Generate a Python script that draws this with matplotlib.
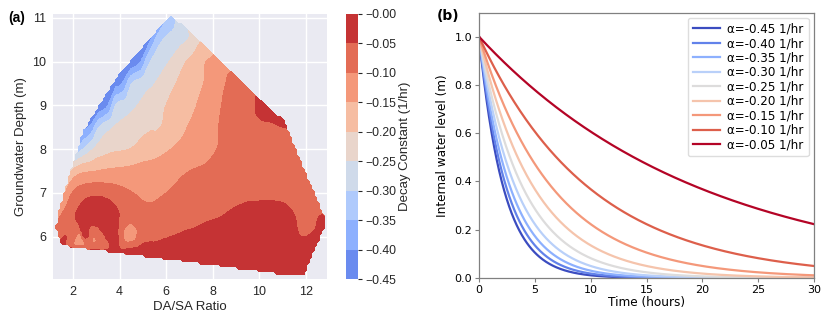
import numpy as np
import matplotlib
matplotlib.use("Agg")
import matplotlib.pyplot as plt
import matplotlib.tri as mtri
from matplotlib.colors import Normalize

# ---- panel (a): sampled runs, DA/SA ratio vs groundwater depth, fitted decay constant (1/hr)
# outline runs (these set the hull of the sampled domain)
edge_x = [6.24, 7.38, 8.0, 8.74, 9.4, 9.95, 10.5, 11.1, 11.53, 12.0, 12.82, 12.82, 12.31, 12.03, 11.9,
          11.0, 9.0, 7.0, 5.5, 3.9, 2.8, 1.58, 1.44, 1.23, 1.30, 1.61, 1.87, 2.16, 2.3,
          2.44, 3.1, 3.88, 4.46, 5.3, 6.09]
edge_y = [11.07, 10.5, 10.13, 9.76, 9.4, 9.14, 8.87, 8.63, 8.02, 7.37, 6.45, 6.22, 5.62, 5.23, 5.1,
          5.12, 5.27, 5.46, 5.54, 5.62, 5.7, 5.77, 5.84, 6.19, 6.5, 7.0, 7.52, 7.9, 8.13,
          8.44, 9.0, 9.66, 10.0, 10.5, 11.03]
edge_z = [-0.32, -0.21, -0.15, -0.10, -0.07, -0.045, -0.04, -0.045, -0.07, -0.07, -0.05, -0.035, -0.02, -0.01, -0.005,
          -0.005, -0.005, -0.01, -0.02, -0.03, -0.048, -0.04, -0.045, -0.09, -0.12, -0.16, -0.21, -0.30, -0.36,
          -0.40, -0.445, -0.445, -0.445, -0.41, -0.34]

# interior runs
in_x = [5.6, 6.0, 6.5, 7.0,
        4.9, 5.24, 5.7, 6.12, 6.5, 6.85, 7.3, 7.7,
        4.1, 4.52, 5.0, 5.51, 6.41, 7.0, 7.6, 8.55, 9.1,
        3.5, 3.81, 4.3, 4.76, 5.4, 5.98, 6.6, 7.3, 7.8, 8.37, 9.0, 9.6,
        2.75, 3.11, 3.73, 4.7, 5.75, 6.3, 6.9, 7.6, 8.25, 9.0, 9.7, 10.5, 11.0,
        2.5, 2.85, 3.5, 4.4, 5.3, 6.2, 7.2, 8.17, 9.0, 10.0, 10.8,
        2.2, 3.0, 4.0, 5.0, 6.0, 7.0, 8.0, 9.0, 10.0, 11.0, 11.8,
        1.95, 2.5, 3.0, 3.7, 4.59, 5.3, 6.0, 7.0, 8.0, 9.0, 10.0, 11.0, 12.0,
        1.7, 2.1, 2.6, 3.2, 3.98, 4.5, 5.5, 6.5, 7.5, 8.2, 9.0, 10.0, 11.0, 11.5, 12.0, 12.6,
        1.75, 2.5, 3.5, 3.94, 4.15, 4.45, 4.75, 5.0, 5.5, 6.03, 7.0, 8.0, 9.0, 10.0, 11.0, 11.79, 12.5,
        1.9, 2.4, 2.85, 3.3, 5.0, 7.0, 9.0, 11.0]
in_y = [10.5] * 4 + [10.0] * 8 + [9.5] * 9 + [9.0] * 12 + [8.5] * 13 + [8.0] * 11 + [7.5] * 11 \
       + [7.0] * 13 + [6.5] * 16 \
       + [6.0, 6.0, 6.0, 6.0, 6.08, 6.08, 6.08, 6.0, 6.0, 6.0, 6.0, 6.0, 6.0, 6.0, 6.0, 6.0, 6.0] \
       + [5.9, 5.88, 5.85, 5.8, 5.7, 5.7, 5.6, 5.5]
in_z = [-0.33, -0.29, -0.27, -0.245,
        -0.40, -0.31, -0.27, -0.25, -0.225, -0.20, -0.175, -0.15,
        -0.40, -0.30, -0.275, -0.25, -0.20, -0.175, -0.15, -0.10, -0.075,
        -0.40, -0.30, -0.275, -0.25, -0.225, -0.20, -0.175, -0.15, -0.125, -0.10, -0.08, -0.06,
        -0.39, -0.30, -0.25, -0.22, -0.20, -0.175, -0.15, -0.13, -0.10, -0.08, -0.06, -0.055, -0.05,
        -0.29, -0.25, -0.215, -0.20, -0.175, -0.15, -0.135, -0.10, -0.085, -0.075, -0.07,
        -0.17, -0.15, -0.14, -0.13, -0.12, -0.10, -0.085, -0.075, -0.065, -0.065, -0.07,
        -0.10, -0.07, -0.06, -0.075, -0.10, -0.115, -0.10, -0.085, -0.075, -0.065, -0.06, -0.06, -0.065,
        -0.08, -0.05, -0.02, -0.01, -0.05, -0.075, -0.08, -0.07, -0.065, -0.055, -0.04, -0.03, -0.035, -0.05, -0.065, -0.05,
        -0.05, -0.045, -0.045, -0.05, -0.10, -0.135, -0.10, -0.07, -0.06, -0.052, -0.04, -0.02, -0.015, -0.015, -0.02,
        -0.05, -0.04,
        -0.08, -0.12, -0.10, -0.07, -0.03, -0.02, -0.01, -0.01]

levels = np.round(np.arange(-0.45, 0.001, 0.05), 2)

# ---- panel (b): decay curves
alphas = [-0.45, -0.40, -0.35, -0.30, -0.25, -0.20, -0.15, -0.10, -0.05]
t_end = 30

fig = plt.figure(figsize=(8.3, 3.24), dpi=100)

ax1 = fig.add_axes([53 / 830, 1 - 279 / 324, 274 / 830, 265 / 324])
cax = fig.add_axes([346 / 830, 1 - 279 / 324, 12 / 830, 265 / 324])
ax2 = fig.add_axes([479 / 830, 1 - 278 / 324, 335 / 830, 265.5 / 324])

sx = np.array(edge_x + in_x)
sy = np.array(edge_y + in_y)
sz = np.array(edge_z + in_z)
tri = mtri.Triangulation(sx, sy)
interp = mtri.CubicTriInterpolator(tri, sz, kind="geom")
gx, gy = np.meshgrid(np.linspace(1.14, 12.9, 110), np.linspace(5.03, 11.09, 110))
gz = interp(gx, gy)
gz = np.ma.clip(gz, -0.4499, -0.0005)

# seaborn darkgrid look for the contour panel
ax1.set_facecolor("#EAEAF2")
ax1.grid(True, color="white", linewidth=1.0)
ax1.set_axisbelow(True)
for s in ax1.spines.values():
    s.set_visible(False)
cs = ax1.contourf(gx, gy, gz, levels=levels, cmap="coolwarm",
                  norm=Normalize(vmin=-0.5, vmax=0.0), zorder=2)
ax1.set_xlim(1.14, 12.9)
ax1.set_ylim(5.03, 11.09)
ax1.set_xticks([2, 4, 6, 8, 10, 12])
ax1.set_yticks([6, 7, 8, 9, 10, 11])
ax1.tick_params(length=0, labelsize=9, colors="#262626", pad=5)
for lab in ax1.get_xticklabels() + ax1.get_yticklabels():
    lab.set_family("Liberation Sans")
ax1.set_xlabel("DA/SA Ratio", fontsize=9.5, family="Liberation Sans", color="#262626", labelpad=2)
ax1.set_ylabel("Groundwater Depth (m)", fontsize=9.5, family="Liberation Sans", color="#262626", labelpad=4)
ax1.text(-0.164, 0.985, "(a)", transform=ax1.transAxes, fontsize=10, fontweight="bold",
         family="Liberation Sans", va="center", ha="left")

cb = fig.colorbar(cs, cax=cax, ticks=levels)
cb.outline.set_visible(False)
cb.ax.tick_params(labelsize=8.8, length=3, width=0.8, colors="#262626", pad=2)
cb.ax.set_yticklabels([f"{v:.2f}".replace("-", "\u2212") for v in levels], family="Liberation Sans")
cb.set_label("Decay Constant (1/hr)", fontsize=9.5, family="Liberation Sans", color="#262626", labelpad=2)

# right panel
t = np.linspace(0, t_end, 400)
colors = plt.get_cmap("coolwarm")(np.linspace(0, 1, len(alphas)))
for a, c in zip(alphas, colors):
    ax2.plot(t, np.exp(a * t), color=c, linewidth=1.6, label=f"\u03b1={a:.2f} 1/hr")
ax2.set_xlim(0, t_end)
ax2.set_ylim(0, 1.1)
ax2.set_xticks([0, 5, 10, 15, 20, 25, 30])
ax2.set_yticks([0.0, 0.2, 0.4, 0.6, 0.8, 1.0])
for s in ax2.spines.values():
    s.set_color("#808080")
    s.set_linewidth(0.9)
ax2.tick_params(labelsize=8, length=3, color="#808080", pad=2)
ax2.set_xlabel("Time (hours)", fontsize=8.7, labelpad=1)
ax2.set_ylabel("Internal water level (m)", fontsize=8.7, labelpad=4)
ax2.legend(loc="upper right", fontsize=8.6, handlelength=2.3, handletextpad=0.6, labelspacing=0.12,
           borderpad=0.4, borderaxespad=0.45, framealpha=1, edgecolor="#dddddd")
ax2.text(-0.125, 0.985, "(b)", transform=ax2.transAxes, fontsize=10, fontweight="bold",
         va="center", ha="left")

fig.savefig("out.png", dpi=100)
